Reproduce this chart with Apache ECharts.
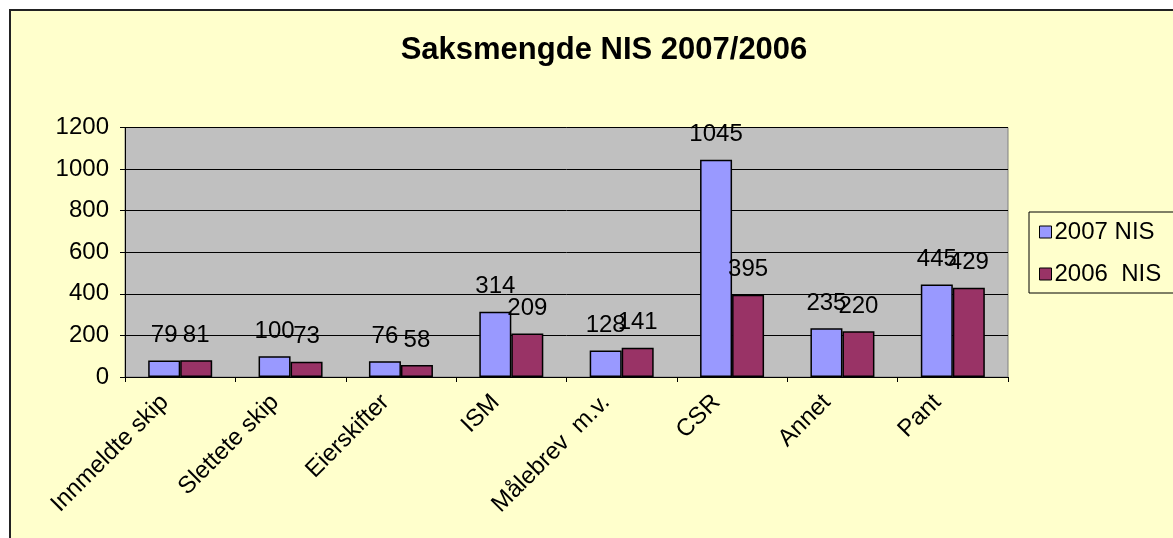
<!DOCTYPE html>
<html>
<head>
<meta charset="utf-8">
<title>Saksmengde NIS 2007/2006</title>
<script src="https://cdn.jsdelivr.net/npm/echarts@6/dist/echarts.min.js"></script>
<style>
  html, body { margin: 0; padding: 0; background: #ffffff; }
  #chart { width: 1173px; height: 538px; }
</style>
</head>
<body>
<div id="chart"></div>
<script>
// data
const categories = ['Innmeldte skip', 'Slettete skip', 'Eierskifter', 'ISM', 'Målebrev  m.v.', 'CSR', 'Annet', 'Pant']
const nis2007 = [79, 100, 76, 314, 128, 1045, 235, 445]
const nis2006 = [81, 73, 58, 209, 141, 395, 220, 429]
const seriesNames = ['2007 NIS', '2006  NIS']
const yTicks = [0, 200, 400, 600, 800, 1000, 1200]

const font = 'Liberation Sans, Arial, sans-serif'

const chart = echarts.init(document.getElementById('chart'))

const labelStyle = {
  show: true,
  position: 'top',
  distance: 13,
  color: '#000',
  fontFamily: font,
  fontSize: 24
}

const option = {
  backgroundColor: '#ffffff',
  animation: false,
  // outer chart frame
  graphic: [
    {
      type: 'rect',
      z: -10,
      shape: { x: 10, y: 10, width: 1200, height: 560 },
      style: { fill: '#FFFFCC', stroke: '#222', lineWidth: 2 }
    }
  ],
  title: {
    text: 'Saksmengde NIS 2007/2006',
    left: 599,
    textAlign: 'center',
    top: 30,
    textStyle: {
      fontFamily: font,
      fontSize: 31,
      fontWeight: 'bold',
      color: '#000'
    }
  },
  legend: {
    orient: 'vertical',
    left: 1029,
    top: 212,
    data: seriesNames,
    itemWidth: 12,
    itemHeight: 12,
    itemGap: 18,
    icon: 'rect',
    padding: [8, 40, 7, 10],
    borderColor: '#000',
    borderWidth: 1,
    backgroundColor: '#FFFFCC',
    itemStyle: { borderColor: '#000', borderWidth: 1 },
    textStyle: { fontFamily: font, fontSize: 24, color: '#000', padding: [0, 0, 0, -2] }
  },
  grid: {
    left: 125,
    right: 165,
    top: 127.5,
    bottom: 161,
    show: true,
    backgroundColor: '#C0C0C0',
    borderColor: '#808080',
    borderWidth: 1
  },
  xAxis: {
    type: 'category',
    data: categories,
    axisLine: { lineStyle: { color: '#000', width: 1 } },
    axisTick: { show: true, length: 5, lineStyle: { color: '#000' } },
    axisLabel: {
      rotate: 45,
      interval: 0,
      margin: 6,
      padding: [0, 22, 0, 0],
      color: '#000',
      fontFamily: font,
      fontSize: 24
    }
  },
  yAxis: {
    type: 'value',
    min: yTicks[0],
    max: yTicks[yTicks.length - 1],
    interval: 200,
    axisLine: { show: true, lineStyle: { color: '#000', width: 1 } },
    axisTick: { show: true, length: 5, lineStyle: { color: '#000' } },
    axisLabel: {
      margin: 16,
      color: '#000',
      fontFamily: font,
      fontSize: 24,
      formatter: (v) => String(v)
    },
    splitLine: { lineStyle: { color: '#000', width: 1 } }
  },
  series: [
    {
      name: seriesNames[0],
      type: 'bar',
      data: nis2007,
      barWidth: 32,
      barGap: '0%',
      itemStyle: { color: '#9999FF', borderColor: '#000', borderWidth: 1.5 },
      label: labelStyle
    },
    {
      name: seriesNames[1],
      type: 'bar',
      data: nis2006,
      barWidth: 32,
      barGap: '0%',
      itemStyle: { color: '#993366', borderColor: '#000', borderWidth: 1.5 },
      label: labelStyle
    }
  ]
}

chart.setOption(option)
</script>
</body>
</html>
